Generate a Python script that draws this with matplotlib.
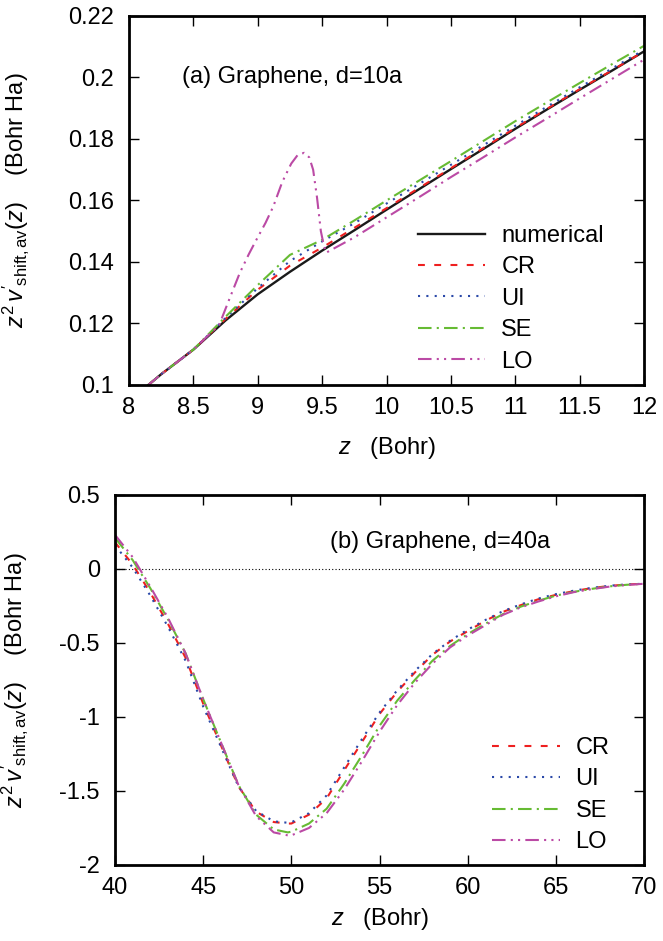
import matplotlib
matplotlib.use('Agg')
import matplotlib.pyplot as plt
import numpy as np

plt.rcParams['font.family'] = ['Liberation Sans', 'DejaVu Sans']
plt.rcParams['mathtext.fontset'] = 'custom'
plt.rcParams['mathtext.rm'] = 'Liberation Sans'
plt.rcParams['mathtext.it'] = 'Liberation Sans:italic'
plt.rcParams['font.size'] = 17

# panel (a): d = 10a
za = [8.15, 8.25, 8.5, 8.75, 9.0, 9.25, 9.5, 9.75, 10.0, 10.25, 10.5, 10.75, 11.0, 11.25, 11.5, 11.75, 12.0]
num_a = [0.100, 0.1035, 0.1115, 0.1210, 0.1295, 0.1368, 0.1437, 0.1503, 0.1570, 0.1636, 0.1702,
         0.1767, 0.1833, 0.1897, 0.1960, 0.2022, 0.2085]
cr_a = [0.100, 0.1035, 0.1115, 0.1215, 0.1310, 0.1388, 0.1447, 0.1511, 0.1575, 0.1640, 0.1705,
        0.1770, 0.1836, 0.1899, 0.1962, 0.2023, 0.2085]
ui_a = [0.100, 0.1035, 0.1115, 0.1218, 0.1315, 0.1403, 0.1467, 0.1526, 0.1590, 0.1653, 0.1716,
        0.1779, 0.1843, 0.1906, 0.1968, 0.2029, 0.2090]
se_a = [0.100, 0.1035, 0.1115, 0.1222, 0.1325, 0.1423, 0.1472, 0.1535, 0.1600, 0.1664, 0.1728,
        0.1793, 0.1858, 0.1920, 0.1982, 0.2043, 0.2103]

z_lo = [8.15, 8.25, 8.5, 8.7, 8.78, 8.86, 8.93, 8.98, 9.06, 9.12, 9.19, 9.26, 9.31, 9.36,
        9.40, 9.43, 9.46, 9.49, 9.51, 9.53, 9.75, 10.0, 10.25, 10.5, 10.75, 11.0, 11.25, 11.5, 11.75, 12.0]
lo_a = [0.100, 0.1035, 0.1115, 0.1195, 0.1280, 0.1364, 0.1425, 0.1465, 0.1527, 0.1580, 0.1660,
        0.1720, 0.1748, 0.1755, 0.1740, 0.1700, 0.1610, 0.1500, 0.1460, 0.1430, 0.1480, 0.1545,
        0.1610, 0.1676, 0.1740, 0.1805, 0.1868, 0.1932, 0.1995, 0.2058]

# panel (b): d = 40a
zb = [40, 41, 42, 43, 44, 45, 46, 47, 48, 49, 49.8, 50, 51, 52, 53, 54, 55, 56, 57, 58, 59,
      60, 61, 62, 63, 64, 65, 66, 67, 68, 69, 70]
cr_b = [0.18, 0.03, -0.16, -0.37, -0.60, -0.91, -1.19, -1.47, -1.64, -1.71, -1.72, -1.72, -1.66,
        -1.55, -1.36, -1.17, -0.98, -0.83, -0.70, -0.58, -0.49, -0.42, -0.35, -0.29, -0.245,
        -0.205, -0.175, -0.15, -0.13, -0.115, -0.105, -0.10]
ui_b = [0.16, 0.01, -0.18, -0.39, -0.62, -0.93, -1.20, -1.47, -1.635, -1.705, -1.715, -1.712,
        -1.65, -1.53, -1.34, -1.15, -0.97, -0.82, -0.69, -0.575, -0.485, -0.41, -0.345, -0.285,
        -0.24, -0.20, -0.17, -0.147, -0.128, -0.114, -0.104, -0.10]
se_b = [0.21, 0.06, -0.13, -0.34, -0.57, -0.88, -1.17, -1.46, -1.66, -1.76, -1.78, -1.775, -1.72,
        -1.62, -1.45, -1.26, -1.06, -0.89, -0.75, -0.62, -0.52, -0.44, -0.37, -0.305, -0.255,
        -0.215, -0.18, -0.155, -0.135, -0.118, -0.107, -0.10]
lo_b = [0.23, 0.08, -0.12, -0.33, -0.57, -0.88, -1.17, -1.46, -1.67, -1.78, -1.80, -1.80, -1.75,
        -1.65, -1.49, -1.30, -1.10, -0.92, -0.77, -0.64, -0.53, -0.45, -0.38, -0.31, -0.26,
        -0.22, -0.185, -0.157, -0.137, -0.12, -0.108, -0.10]

c_cr = '#ee2020'
c_ui = '#2a48a8'
c_se = '#66bb33'
c_lo = '#bb4aa5'
lw = 1.5
ls_cr = (0, (3.3, 4.5))
ls_ui = (0, (1, 3))
ls_se = (0, (6.5, 2.5, 1, 2.5))
ls_lo = (0, (6.5, 2.5, 1, 2.5, 1, 2.5))

ylab = r"$z^2\,v'_{\rm shift,av}(z)$    (Bohr Ha)"
xlab = r"$z$   (Bohr)"

fig = plt.figure(figsize=(6.63, 9.41), dpi=100)
ax1 = fig.add_axes([0.1946, 0.5909, 0.7768, 0.3921])
ax2 = fig.add_axes([0.1735, 0.0808, 0.7979, 0.3932])

ax1.plot(za, num_a, color='#1a1a1a', lw=1.7, label='numerical')
ax1.plot(za, cr_a, color=c_cr, lw=lw, ls=ls_cr, label='CR')
ax1.plot(za, ui_a, color=c_ui, lw=lw, ls=ls_ui, label='UI')
ax1.plot(za, se_a, color=c_se, lw=lw, ls=ls_se, label='SE')
ax1.plot(z_lo, lo_a, color=c_lo, lw=lw, ls=ls_lo, label='LO')
ax1.set_xlim(8, 12)
ax1.set_ylim(0.1, 0.22)
ax1.set_xticks(np.arange(8, 12.01, 0.5))
ax1.set_xticklabels(['8', '8.5', '9', '9.5', '10', '10.5', '11', '11.5', '12'])
ax1.set_yticks(np.arange(0.1, 0.2201, 0.02))
ax1.set_yticklabels(['0.1', '0.12', '0.14', '0.16', '0.18', '0.2', '0.22'])
ax1.text(8.41, 0.2, '(a) Graphene, d=10a', va='center', ha='left')
ax1.set_xlabel(xlab)
ax1.set_ylabel(ylab)
ax1.xaxis.set_label_coords(0.5, -0.135)
ax1.yaxis.set_label_coords(-0.19, 0.5)
ax1.legend(loc='upper left', bbox_to_anchor=(0.561, 0.434), frameon=False, borderpad=0,
           borderaxespad=0, handlelength=2.85, handletextpad=0.68, labelspacing=0.4)

ax2.axhline(0, color='black', lw=0.8, ls=(0, (1, 2)))
ax2.plot(zb, cr_b, color=c_cr, lw=lw, ls=ls_cr, label='CR')
ax2.plot(zb, ui_b, color=c_ui, lw=lw, ls=ls_ui, label='UI')
ax2.plot(zb, se_b, color=c_se, lw=lw, ls=ls_se, label='SE')
ax2.plot(zb, lo_b, color=c_lo, lw=lw, ls=ls_lo, label='LO')
ax2.set_xlim(40, 70)
ax2.set_ylim(-2, 0.5)
ax2.set_xticks(np.arange(40, 71, 5))
ax2.set_yticks([-2, -1.5, -1, -0.5, 0, 0.5])
ax2.set_yticklabels(['-2', '-1.5', '-1', '-0.5', '0', '0.5'])
ax2.text(52.2, 0.185, '(b) Graphene, d=40a', va='center', ha='left')
ax2.set_xlabel(xlab)
ax2.set_ylabel(ylab)
ax2.xaxis.set_label_coords(0.5, -0.111)
ax2.yaxis.set_label_coords(-0.16, 0.5)
ax2.legend(loc='upper left', bbox_to_anchor=(0.713, 0.346), frameon=False, borderpad=0,
           borderaxespad=0, handlelength=2.85, handletextpad=0.68, labelspacing=0.4)

for ax in (ax1, ax2):
    ax.tick_params(direction='in', length=7, width=1, top=True, right=True)
    ax.tick_params(axis='x', pad=9)
    ax.tick_params(axis='y', pad=11)
    for s in ax.spines.values():
        s.set_linewidth(2)

fig.savefig('out.png', dpi=100)
